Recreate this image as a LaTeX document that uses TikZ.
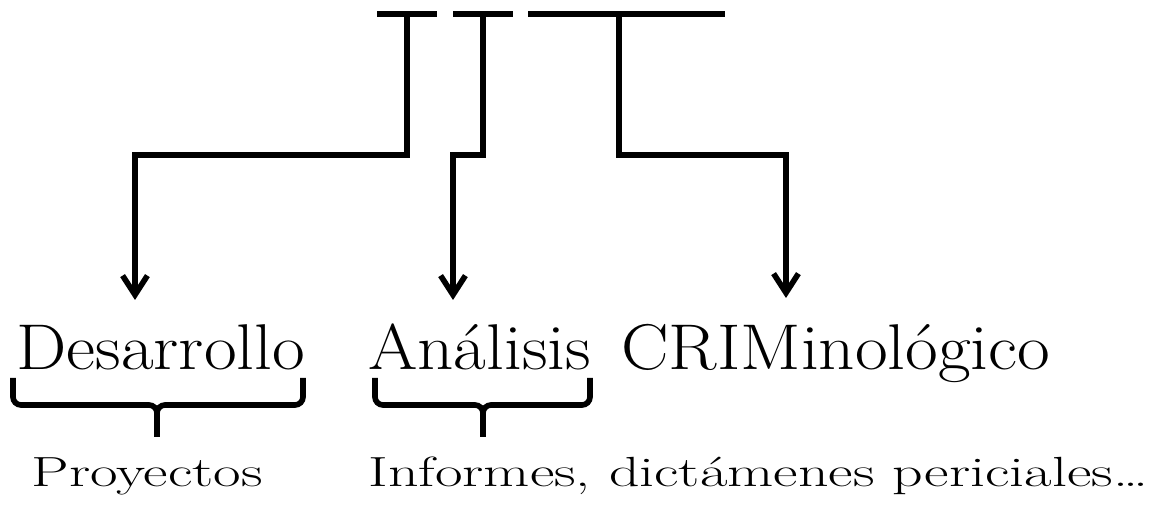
\documentclass[tikz,border=0pt]{standalone}
\usepackage{tikz}
\tikzset{>=latex}
\usetikzlibrary{arrows.meta}
\usetikzlibrary{calc}
\tikzset{
    bar/.style = {line width=4pt},
    link/.style = {line width=4pt, -{Straight Barb[length=0.48cm, width=0.62cm]}},
    brace/.style = {line width=4pt, rounded corners=0.2cm},
    word/.style = {inner sep=0pt, anchor=base west, xscale=1.1, font=\fontsize{46}{50}\selectfont},
    note/.style = {inner sep=0pt, anchor=base west, xscale=1.42, font=\fontsize{30}{34}\selectfont}
}

\begin{document}
\begin{tikzpicture}[x=0.025cm, y=-0.025cm]
            \useasboundingbox (0, 0) rectangle (1167, 510);
            \foreach \a/\b in {377/437, 453/513, 528/725} {
                \draw[bar] (\a, 14) -- (\b, 14);
            }
            \coordinate (b1) at (407, 14);
            \coordinate (b2) at (483, 14);
            \coordinate (b3) at (619, 14);
            \coordinate (lvl) at (0, 155);
            \coordinate (t1) at (135, 300);
            \coordinate (t2) at (453, 300);
            \coordinate (t3) at (786, 298);
            \node[word] (des) at (16, 370) {Desarrollo};
            \node[word] (ana) at (368, 370) {Análisis};
            \node[word] (crim) at (621, 370) {CRIMinológico};
            \node[note] (proy) at (31, 487) {Proyectos};
            \node[note] (inf) at (368, 487) {Informes, dictámenes periciales\dots};
            \draw[link] (b1) -- (b1 |- lvl) -| (t1);
            \draw[link] (b2) -- (b2 |- lvl) -| (t2);
            \draw[link] (b3) -- (b3 |- lvl) -| (t3);
            \foreach \l/\m/\r in {13/157/303, 375/483/590} {
                \draw[brace] (\l, 378) |- (\m, 405) -- (\m, 437);
                \draw[brace] (\r, 378) |- (\m, 405) -- (\m, 437);
            }
        \end{tikzpicture}
\end{document}
